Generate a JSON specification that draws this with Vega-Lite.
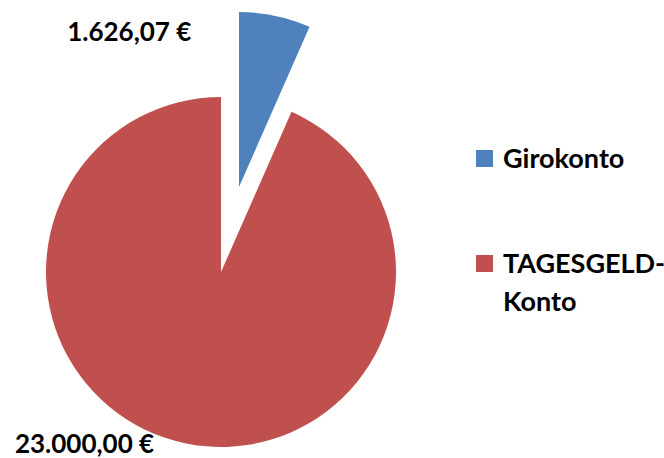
{
  "$schema": "https://vega.github.io/schema/vega-lite/v6.json",
  "width": 442,
  "height": 350,
  "autosize": {"type": "none"},
  "padding": {"left": 0, "top": 97, "right": 222, "bottom": 11},
  "background": "white",
  "config": {"view": {"stroke": null}, "font": "Lato"},
  "data": {
    "values": [
      {"Konto": "Girokonto", "Betrag": 1626.07, "Label": "1.626,07 €"},
      {"Konto": "TAGESGELD-Konto", "Betrag": 23000, "Label": "23.000,00 €"}
    ]
  },
  "encoding": {
    "theta": {"field": "Betrag", "type": "quantitative", "stack": true}
  },
  "layer": [
    {
      "mark": {"type": "arc"},
      "encoding": {
        "color": {
          "field": "Konto",
          "type": "nominal",
          "scale": {"domain": ["Girokonto", "TAGESGELD-Konto"], "range": ["#4F81BD", "#C0504D"]},
          "legend": {
            "orient": "none",
            "legendX": 471,
            "legendY": 57,
            "padding": 0,
            "title": null,
            "symbolType": "M-1,-2.06H1V-0.06H-1Z",
            "symbolSize": 289,
            "symbolStrokeWidth": 0,
            "labelFont": "Lato",
            "labelFontSize": 27,
            "labelFontWeight": "bold",
            "labelColor": "black",
            "labelBaseline": "alphabetic",
            "labelOffset": 5,
            "labelLimit": 300,
            "rowPadding": 77,
            "labelExpr": "datum.label == 'TAGESGELD-Konto' ? ['TAGESGELD-', 'Konto'] : datum.label",
            "encode": {"labels": {"update": {"lineHeight": {"value": 38}}}}
          }
        },
        "fillOpacity": {"condition": {"test": "datum.Konto === 'Girokonto'", "value": 0}, "value": 1}
      }
    },
    {
      "mark": {"type": "arc", "xOffset": 18, "yOffset": -85},
      "encoding": {
        "color": {"field": "Konto", "type": "nominal"},
        "fillOpacity": {"condition": {"test": "datum.Konto === 'Girokonto'", "value": 1}, "value": 0}
      }
    },
    {
      "mark": {"type": "text", "radius": 244, "dx": -142, "fontSize": 26, "fontWeight": "bold", "fill": "black", "align": "center", "baseline": "middle"},
      "encoding": {
        "text": {"condition": {"test": "datum.Konto === 'Girokonto'", "field": "Label"}, "value": ""}
      }
    },
    {
      "mark": {"type": "text", "radius": 177, "dx": -100, "fontSize": 26, "fontWeight": "bold", "fill": "black", "align": "center", "baseline": "middle"},
      "encoding": {
        "text": {"condition": {"test": "datum.Konto !== 'Girokonto'", "field": "Label"}, "value": ""}
      }
    }
  ]
}
